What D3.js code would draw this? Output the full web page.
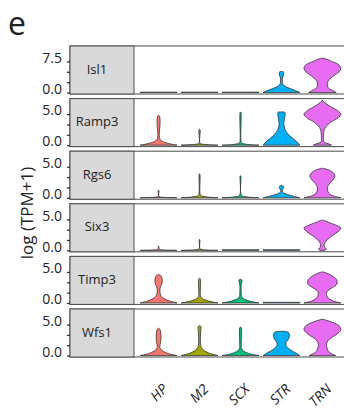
<!DOCTYPE html>
<html>
<head>
<meta charset="utf-8">
<script src="https://cdn.jsdelivr.net/npm/d3@7"></script>
<style>
  body { margin: 0; background: #fff; }
  text { font-family: "Open Sans", sans-serif; fill: #222; }
</style>
</head>
<body>
<script>
// groups on the x axis and their colours
const regions = ['HP', 'M2', 'SCX', 'STR', 'TRN']
const colors = ['#F8766D', '#A3A500', '#00BF7D', '#00B0F6', '#E76BF3']
const genes = ['Isl1', 'Ramp3', 'Rgs6', 'Six3', 'Timp3', 'Wfs1']

// y domain top of every panel, ticks and labelled ticks
const yMax = [11.2, 7.5, 7.5, 7.5, 7.5, 7.5]
const yTicks = [[0, 2.5, 5, 7.5], [0, 1.67, 3.33, 5], [0, 1.67, 3.33, 5], [0, 1.67, 3.33, 5], [0, 1.67, 3.33, 5], [0, 1.67, 3.33, 5]]
const yLabels = [[0, 7.5], [0, 5], [0, 5], [0, 5], [0, 5], [0, 5]]

// violin outlines: [log(TPM+1), relative half width]
const flat = [[0, 1], [0.1, 1]]
const isl1 = [
  flat, flat, flat,
  [[0, 1], [0.5, 0.75], [1, 0.45], [1.5, 0.2], [2, 0.08], [2.5, 0.05], [3.5, 0.05], [4, 0.1], [4.5, 0.12], [5, 0.1], [5.05, 0]],
  [[0, 0.75], [0.5, 0.55], [1, 0.35], [1.5, 0.28], [2.25, 0.27], [3, 0.35], [4, 0.6], [5, 0.9], [5.9, 1], [6.8, 0.85], [7.5, 0.5], [8, 0.25], [8.3, 0]]
]
const ramp3 = [
  [[0, 1], [0.3, 0.5], [0.7, 0.15], [1.2, 0.05], [2, 0.04], [3, 0.07], [4, 0.08], [4.7, 0.05], [4.8, 0]],
  [[0, 1], [0.15, 0.2], [0.3, 0.03], [2.5, 0.03], [2.55, 0]],
  [[0, 1], [0.15, 0.3], [0.4, 0.05], [0.8, 0.02], [5.3, 0.02], [5.35, 0]],
  [[0, 1], [0.5, 0.85], [1, 0.65], [1.5, 0.45], [2, 0.3], [2.5, 0.2], [3, 0.15], [3.5, 0.13], [4, 0.15], [4.5, 0.18], [5, 0.2], [5.3, 0.18], [5.35, 0]],
  [[0, 0.5], [0.25, 0.3], [0.5, 0.08], [1.5, 0.06], [2.5, 0.1], [3.2, 0.25], [3.8, 0.5], [4.4, 0.85], [5, 1], [5.6, 0.8], [6.2, 0.45], [6.7, 0.2], [7.1, 0.03], [7.3, 0]]
]
const rgs6 = [
  [[0, 1], [0.1, 0.15], [0.2, 0.02], [1.2, 0.02], [1.25, 0]],
  [[0, 1], [0.15, 0.35], [0.4, 0.06], [0.8, 0.02], [3.8, 0.02], [3.85, 0]],
  [[0, 1], [0.15, 0.3], [0.4, 0.05], [3.5, 0.02], [3.55, 0]],
  [[0, 1], [0.3, 0.6], [0.6, 0.25], [0.9, 0.06], [1.2, 0.04], [1.5, 0.1], [1.8, 0.12], [2, 0]],
  [[0, 1], [0.3, 0.6], [0.7, 0.35], [1.2, 0.28], [1.6, 0.27], [2, 0.32], [2.5, 0.45], [3, 0.6], [3.5, 0.68], [4, 0.6], [4.4, 0.4], [4.7, 0.1], [4.75, 0]]
]
const six3 = [
  [[0, 1], [0.1, 0.1], [0.2, 0.02], [0.65, 0.02], [0.7, 0]],
  [[0, 1], [0.1, 0.2], [0.3, 0.02], [1.7, 0.02], [1.75, 0]],
  flat, flat,
  [[0, 0.15], [0.25, 0.2], [0.5, 0.12], [0.9, 0.1], [1.3, 0.15], [1.8, 0.3], [2.4, 0.55], [3, 0.85], [3.6, 1], [4.1, 0.7], [4.5, 0.35], [4.8, 0.1], [4.9, 0]]
]
const timp3 = [
  [[0, 1], [0.3, 0.6], [0.7, 0.3], [1.1, 0.14], [1.6, 0.08], [2.2, 0.07], [2.6, 0.1], [3, 0.17], [3.5, 0.2], [4, 0.18], [4.4, 0.12], [4.6, 0]],
  [[0, 1], [0.3, 0.5], [0.7, 0.15], [1, 0.06], [1.5, 0.04], [3.9, 0.04], [3.95, 0]],
  [[0, 1], [0.3, 0.5], [0.7, 0.15], [1, 0.06], [1.5, 0.04], [3, 0.04], [3.4, 0.08], [3.7, 0.08], [3.8, 0]],
  flat,
  [[0, 1], [0.3, 0.6], [0.7, 0.35], [1.1, 0.25], [1.6, 0.22], [2, 0.3], [2.5, 0.55], [3, 0.78], [3.5, 0.8], [4, 0.7], [4.5, 0.45], [4.9, 0.15], [5, 0]]
]
const wfs1 = [
  [[0, 1], [0.3, 0.55], [0.7, 0.25], [1.1, 0.1], [1.5, 0.07], [2, 0.1], [2.8, 0.13], [3.6, 0.12], [4.2, 0.08], [4.4, 0]],
  [[0, 1], [0.4, 0.5], [0.8, 0.25], [1.3, 0.1], [2, 0.05], [3, 0.05], [4.2, 0.07], [4.6, 0.08], [4.9, 0]],
  [[0, 1], [0.3, 0.5], [0.7, 0.18], [1.1, 0.06], [1.5, 0.04], [4.5, 0.04], [4.55, 0]],
  [[0, 1], [0.3, 0.85], [0.7, 0.6], [1.1, 0.4], [1.6, 0.25], [2.1, 0.25], [2.6, 0.37], [3, 0.42], [3.5, 0.42], [3.8, 0.35], [3.9, 0]],
  [[0, 0.72], [0.3, 0.5], [0.7, 0.32], [1.2, 0.25], [1.8, 0.22], [2.4, 0.3], [3, 0.55], [3.6, 0.85], [4.2, 1], [4.8, 0.9], [5.3, 0.6], [5.7, 0.2], [5.85, 0]]
]
const violins = [isl1, ramp3, rgs6, six3, timp3, wfs1]

const frame = {
  width: 344,
  height: 413,
  left: 70, // panel left edge (axis)
  strip: 134, // end of grey label strip
  right: 347,
  top: 46,
  panelH: 48,
  pitch: 52.6
}

const svg = d3.select('body').append('svg')
  .attr('width', frame.width)
  .attr('height', frame.height)

// panel letter
svg.append('text')
  .attr('x', 8).attr('y', 35)
  .style('font-size', '32px')
  .text('e')

// y title
svg.append('text')
  .attr('transform', 'translate(33,213) rotate(-90)')
  .attr('text-anchor', 'middle')
  .style('font-size', '17px')
  .text('log (TPM+1)')

const x = d3.scalePoint()
  .domain(regions)
  .range([frame.strip, frame.right])
  .padding(0.6)
const half = x.step() * 0.45

genes.forEach((gene, g) => {
  const top = frame.top + g * frame.pitch
  const y = d3.scaleLinear()
    .domain([-0.031 * yMax[g], yMax[g]])
    .range([top + frame.panelH, top])

  const panel = svg.append('g')

  panel.append('rect')
    .attr('x', frame.left).attr('y', top)
    .attr('width', frame.right - frame.left).attr('height', frame.panelH)
    .attr('fill', '#fff')
    .attr('stroke', '#4d4d4d').attr('stroke-width', 1)

  // grey strip with the gene name
  panel.append('rect')
    .attr('x', frame.left).attr('y', top)
    .attr('width', frame.strip - frame.left).attr('height', frame.panelH)
    .attr('fill', '#d9d9d9')
    .attr('stroke', '#4d4d4d').attr('stroke-width', 1)

  panel.append('text')
    .attr('x', 97).attr('y', top + frame.panelH / 2 - 1)
    .attr('dy', '0.35em')
    .attr('text-anchor', 'middle')
    .style('font-size', '13px')
    .text(gene)

  // y axis
  const axis = panel.append('g')
    .attr('transform', `translate(${frame.left},0)`)
    .call(d3.axisLeft(y)
      .tickValues(yTicks[g])
      .tickSize(3)
      .tickPadding(5)
      .tickFormat(d => yLabels[g].includes(d) ? d3.format('.1f')(d) : ''))
  axis.select('.domain').remove()
  axis.selectAll('.tick line').attr('stroke', '#333').attr('stroke-width', 1.3)
  axis.selectAll('.tick text')
    .attr('dy', '0.05em')
    .style('font-size', '14px')
    .style('font-family', '"Open Sans", sans-serif')
    .attr('fill', '#222')

  // violins
  violins[g].forEach((prof, i) => {
    const cx = x(regions[i])
    const area = d3.area()
      .curve(d3.curveCatmullRom.alpha(0.5))
      .y(d => y(d[0]))
      .x0(d => cx - d[1] * half)
      .x1(d => cx + d[1] * half)
    panel.append('path')
      .attr('d', area(prof))
      .attr('fill', colors[i])
      .attr('stroke', '#333')
      .attr('stroke-width', 0.8)
  })
})

// x labels under the last panel
const bottom = frame.top + (genes.length - 1) * frame.pitch + frame.panelH
regions.forEach(r => {
  svg.append('text')
    .attr('transform', `translate(${x(r) + 10},${bottom + 33}) rotate(-45)`)
    .attr('text-anchor', 'end')
    .style('font-size', '14px')
    .style('font-style', 'italic')
    .text(r)
})
</script>
</body>
</html>
